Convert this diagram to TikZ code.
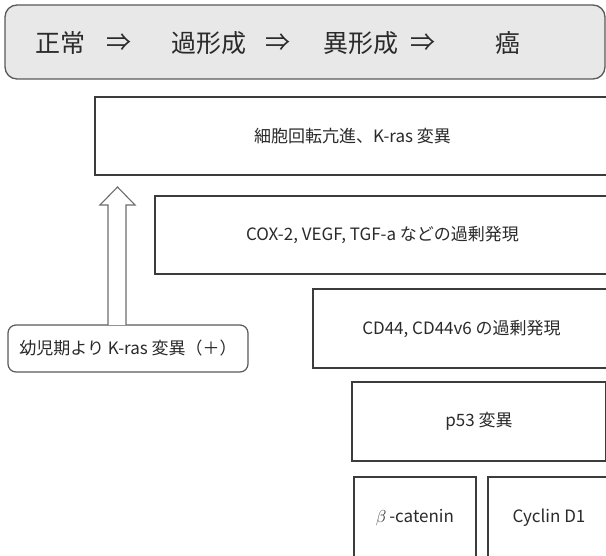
\documentclass[tikz,border=0pt]{standalone}
\usepackage{fontspec}
\setmainfont{Noto Sans CJK JP}
\newfontfamily\jp{Noto Sans CJK JP}
\definecolor{edge}{HTML}{3C3C3C}
\definecolor{txt}{HTML}{2A2A2A}
\definecolor{topfill}{HTML}{E8E8E8}
\begin{document}
\begin{tikzpicture}[x=1pt,y=-1pt,
  box/.style={draw=edge,line width=1.5pt,fill=white,inner sep=0pt,outer sep=0pt,
    anchor=north west,text=txt,font=\jp\fontsize{17}{20}\selectfont},
  topbox/.style={draw=edge!85,line width=1.3pt,fill=topfill,rounded corners=12pt,
    inner sep=0pt,outer sep=0pt,anchor=north west},
  toptext/.style={text=txt,font=\jp\fontsize{25}{28}\selectfont,inner sep=0pt},
  kidbox/.style={draw=edge!85,line width=1.2pt,fill=white,rounded corners=8pt,
    inner sep=0pt,outer sep=0pt,anchor=north west,text=txt,font=\jp\fontsize{17}{20}\selectfont},
  hollow/.style={draw=edge!75,line width=1.1pt,fill=white}
]
\useasboundingbox (0,0) rectangle (606,556);
\clip (0,0) rectangle (606,556);
% top stage bar
\node[topbox,minimum width=600pt,minimum height=74pt] (top) at (5,5) {};
\node[toptext] (s1) at (60,43) {正常};
\node[toptext] (a1) at (119,43) {⇒};
\node[toptext] (s2) at (209,43) {過形成};
\node[toptext] (a2) at (278,43) {⇒};
\node[toptext] (s3) at (361,43) {異形成};
\node[toptext] (a3) at (423,43) {⇒};
\node[toptext] (s4) at (508,43) {癌};
% stacked boxes (extend beyond right edge)
\node[box,minimum width=515pt,minimum height=78pt] (b1) at (95,97) {細胞回転亢進、K-ras 変異};
\node[box,minimum width=455pt,minimum height=78pt] (b2) at (155,196) {COX-2, VEGF, TGF-a などの過剰発現};
\node[box,minimum width=297pt,minimum height=79pt] (b3) at (313,289) {CD44, CD44v6 の過剰発現};
\node[box,minimum width=254pt,minimum height=79pt] (b4) at (352,382) {p53 変異};
\node[box,minimum width=122pt,minimum height=82pt] (b5) at (354,477) {$\beta$\,-catenin};
\node[box,minimum width=122pt,minimum height=82pt] (b6) at (488,477) {Cyclin D1};
% infancy box
\node[kidbox,minimum width=240pt,minimum height=47pt] (kid) at (8,325) {幼児期より K-ras 変異（＋）};
% hollow arrow
\coordinate (tip) at (117.5,187);
\draw[hollow] (108,325) -- (108,205) -- (100,205) -- (tip) -- (135,205) -- (126,205) -- (126,325);
\end{tikzpicture}
\end{document}
